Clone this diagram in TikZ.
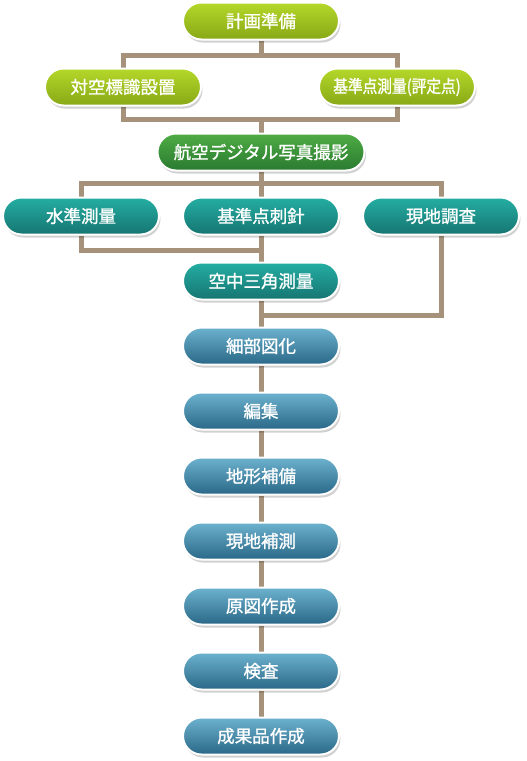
\documentclass[tikz,border=0pt]{standalone}
\usepackage{fontspec}
\newfontfamily\jp[FakeBold=1.2]{Noto Sans CJK JP}
\newfontfamily\jpnarrow[FakeStretch=0.84, FakeBold=1.2]{Noto Sans CJK JP}
\usetikzlibrary{positioning, shadows, backgrounds}
\definecolor{limetop}{RGB}{181, 216, 42}
\definecolor{limebot}{RGB}{136, 168, 22}
\definecolor{greentop}{RGB}{78, 172, 68}
\definecolor{greenbot}{RGB}{42, 122, 48}
\definecolor{tealtop}{RGB}{36, 174, 163}
\definecolor{tealbot}{RGB}{22, 117, 113}
\definecolor{bluetop}{RGB}{108, 178, 206}
\definecolor{bluebot}{RGB}{42, 104, 136}
\definecolor{linkbrown}{RGB}{166, 146, 122}

\begin{document}
\begin{tikzpicture}[x=1pt, y=-1pt,
        flowbox/.style={draw=white, line width=2pt, rounded corners=18.5pt,
            minimum width=156pt, minimum height=37pt, inner sep=0pt,
            text=white, font=\jp\fontsize{17.5}{20}\selectfont,
            drop shadow={shadow xshift=1.5pt, shadow yshift=-3pt,
                fill=black, opacity=0.18}},
        limebox/.style={flowbox, top color=limetop, bottom color=limebot},
        greenbox/.style={flowbox, top color=greentop, bottom color=greenbot},
        tealbox/.style={flowbox, top color=tealtop, bottom color=tealbot},
        bluebox/.style={flowbox, top color=bluetop, bottom color=bluebot},
        link/.style={draw=linkbrown, line width=5pt}
    ]
    \useasboundingbox (0, 0) rectangle (527, 761);

    \node[limebox] (plan) at (261, 21) {計画準備};
    \node[limebox] (signal) at (123, 87) {対空標識設置};
    \node[limebox, font=\jpnarrow\fontsize{17.5}{20}\selectfont] (ctrl) at (397, 87)
        {基準点測量(評定点)};
    \node[greenbox, minimum width=207pt] (photo) at (261, 152) {航空デジタル写真撮影};
    \node[tealbox] (level) at (81, 216) {水準測量};
    \node[tealbox] (prick) at (261, 216) {基準点刺針};
    \node[tealbox] (field) at (441, 216) {現地調査};
    \node[tealbox] (aero) at (261, 281) {空中三角測量};
    \node[bluebox] (detail) at (261, 346) {細部図化};
    \node[bluebox, below=26pt of detail] (edit) {編集};
    \node[bluebox, below=26pt of edit] (supp) {地形補備};
    \node[bluebox, below=26pt of supp] (meas) {現地補測};
    \node[bluebox, below=26pt of meas] (orig) {原図作成};
    \node[bluebox, below=26pt of orig] (insp) {検査};
    \node[bluebox, below=26pt of insp] (final) {成果品作成};

    % split and merge points
    \coordinate (s1) at (261, 55);
    \coordinate (m1) at (261, 119);
    \coordinate (s2) at (261, 183);
    \coordinate (m2) at (261, 250);
    \coordinate (m3) at (261, 315);

    \begin{pgfonlayer}{background}
        \fill[white] (0, 0) rectangle (527, 761);
        \draw[link] (plan) -- (s1);
        \draw[link] (signal) |- (s1) -| (ctrl);
        \draw[link] (signal) |- (m1) -| (ctrl);
        \draw[link] (m1) -- (photo);
        \draw[link] (photo) -- (prick);
        \draw[link] (level) |- (s2) -| (field);
        \draw[link] (level) |- (m2);
        \draw[link] (prick) -- (aero);
        \draw[link] (field) |- (m3);
        \draw[link] (aero) -- (detail) -- (edit) -- (supp) -- (meas)
            -- (orig) -- (insp) -- (final);
    \end{pgfonlayer}
\end{tikzpicture}
\end{document}
